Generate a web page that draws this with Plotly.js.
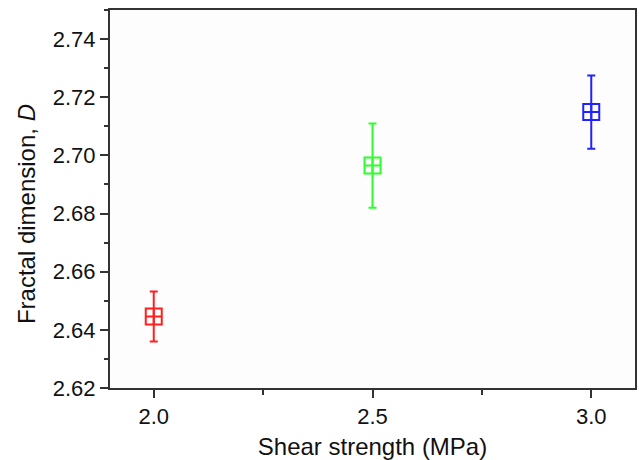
<!DOCTYPE html>
<html>
<head>
<meta charset="utf-8">
<script src="https://cdn.plot.ly/plotly-3.0.1.min.js"></script>
<style>html,body{margin:0;padding:0;background:#fff;}#chart{width:639px;height:460px;}</style>
</head>
<body>
<div id="chart"></div>
<script>
var shearStrength = [2.0, 2.5, 3.0];
var fractalD = [2.6446, 2.6965, 2.7149];
var errorD = [0.0086, 0.0145, 0.0126];
var seriesColors = ['#ff1f1f', '#2cff2c', '#2222ff'];

var traces = shearStrength.map(function (x, i) {
  return {
    type: 'scatter',
    mode: 'markers',
    x: [x],
    y: [fractalD[i]],
    error_y: {type: 'data', array: [errorD[i]], visible: true, color: seriesColors[i], thickness: 2, width: 4},
    marker: {symbol: 'square-cross-open', size: 16, color: seriesColors[i], line: {width: 2, color: seriesColors[i]}},
    showlegend: false,
    hoverinfo: 'x+y'
  };
});

var layout = {
  width: 639, height: 460,
  margin: {l: 110, r: 4, t: 10, b: 72},
  paper_bgcolor: '#ffffff',
  plot_bgcolor: '#fdfdfd',
  font: {family: '"Liberation Sans", Arial, sans-serif', color: '#111'},
  xaxis: {
    range: [1.9, 3.1], tickvals: shearStrength, tickformat: '.1f',
    ticks: 'outside', ticklen: 8, tickwidth: 2, tickcolor: '#333',
    minor: {tickvals: [2.25, 2.75], ticks: 'outside', ticklen: 5, tickwidth: 2, tickcolor: '#333'},
    showline: true, linecolor: '#333', linewidth: 2, mirror: true,
    showgrid: false, zeroline: false,
    tickfont: {size: 22},
    title: {text: 'Shear strength (MPa)', font: {size: 24}, standoff: 12}
  },
  yaxis: {
    range: [2.62, 2.75], tick0: 2.62, dtick: 0.02, tickformat: '.2f',
    ticks: 'outside', ticklen: 8, tickwidth: 2, tickcolor: '#333',
    minor: {dtick: 0.01, ticks: 'outside', ticklen: 4, tickwidth: 2, tickcolor: '#333'},
    showline: true, linecolor: '#333', linewidth: 2, mirror: true,
    showgrid: false, zeroline: false,
    tickfont: {size: 22}
  },
  annotations: [{
    text: 'Fractal dimension, <i>D</i>', textangle: -90,
    xref: 'paper', yref: 'paper', x: -0.16, y: 0.46, xanchor: 'center', yanchor: 'middle',
    showarrow: false, font: {size: 24}
  }]
};

Plotly.newPlot('chart', traces, layout, {displayModeBar: false, staticPlot: true});
</script>
</body>
</html>
